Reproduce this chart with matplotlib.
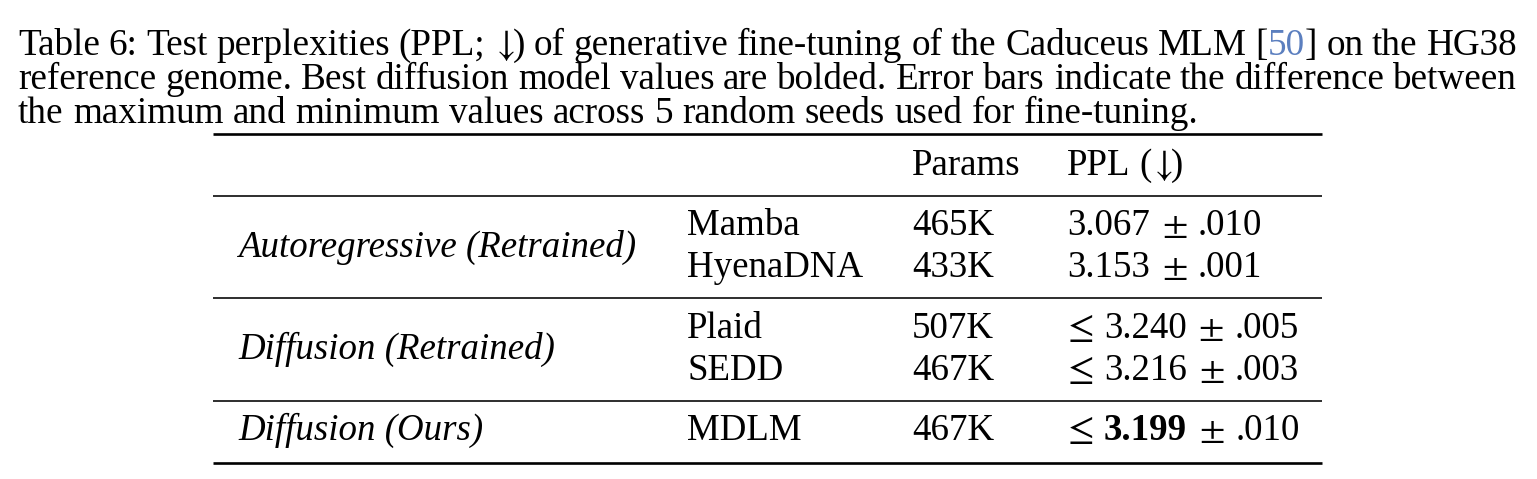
import matplotlib
matplotlib.use("Agg")
import matplotlib.pyplot as plt

plt.rcParams["mathtext.fontset"] = "stix"

# ---------------- data ----------------
caption_lines = [
    "Table 6: Test perplexities (PPL; \u2193) of generative fine-tuning of the Caduceus MLM [50] on the HG38",
    "reference genome. Best diffusion model values are bolded. Error bars indicate the difference between",
    "the maximum and minimum values across 5 random seeds used for fine-tuning.",
]
col_headers = ["Params", "PPL (\u2193)"]
groups = ["Autoregressive (Retrained)", "Diffusion (Retrained)", "Diffusion (Ours)"]
group_sizes = [2, 2, 1]
models = ["Mamba", "HyenaDNA", "Plaid", "SEDD", "MDLM"]
params = ["465K", "433K", "507K", "467K", "467K"]
ppl = [3.067, 3.153, 3.240, 3.216, 3.199]
ppl_err = [0.010, 0.001, 0.005, 0.003, 0.010]
is_bound = [False, False, True, True, True]
is_best = [False, False, False, False, True]

# ---------------- layout ----------------
W, H = 1537, 479
fig = plt.figure(figsize=(W / 100, H / 100), dpi=100)
ax = fig.add_axes([0, 0, 1, 1])
ax.set_xlim(0, W)
ax.set_ylim(H, 0)
ax.axis("off")
renderer = fig.canvas.get_renderer()

FAM = ["Liberation Serif", "DejaVu Serif"]
CAP_SIZE = 26.7
TAB_SIZE = 26.6
LINK = "#5b7fbf"
MATH = {"\u2193": r"$\downarrow$", "\u2264": r"$\leq$", "\u00b1": r"$\pm$"}
MATH_SCALE = {"\u2193": 1.0, "\u2264": 1.04, "\u00b1": 1.0}
MATH_SLOT = {"\u2264": 24.0, "\u00b1": 24.0}  # width of the glyph slot (px)


def measure(s, size, **kw):
    t = ax.text(0, 0, s, fontsize=size, family=FAM, **kw)
    w = t.get_window_extent(renderer).width
    t.remove()
    return w


def space_w(size, **kw):
    return measure("n n", size, **kw) - measure("nn", size, **kw)


def slot_w(ch, size):
    return MATH_SLOT.get(ch) or measure(ch, size)


def draw_runs(x, y, runs, size):
    """runs: list of (text, kw); a number item is a horizontal gap (px)."""
    for item in runs:
        if isinstance(item, (int, float)):
            x += item
            continue
        text, kw = item
        if text == " ":
            x += space_w(size, **kw)
            continue
        if text in MATH:
            w = slot_w(text, size)
            ax.text(x + w / 2, y, MATH[text], fontsize=size * MATH_SCALE[text],
                    family=FAM, va="baseline", ha="center", **kw)
            x += w
            continue
        t = ax.text(x, y, text, fontsize=size, family=FAM,
                    va="baseline", ha="left", **kw)
        x += t.get_window_extent(renderer).width
    return x


def word_runs(word):
    runs = []
    buf = ""
    i = 0
    while i < len(word):
        if word.startswith("[50]", i):
            if buf:
                runs.append((buf, {}))
            buf = ""
            runs += [("[", {}), ("50", {"color": LINK}), ("]", {})]
            i += 4
            continue
        ch = word[i]
        if ch in MATH:
            if buf:
                runs.append((buf, {}))
            buf = ""
            runs.append((ch, {}))
        else:
            buf += ch
        i += 1
    if buf:
        runs.append((buf, {}))
    return runs


def runs_width(runs, size):
    tot = 0.0
    for t, kw in runs:
        tot += slot_w(t, size) if t in MATH else measure(t, size, **kw)
    return tot


def draw_caption_line(line, x0, y, size, right=None):
    words = line.split(" ")
    runs = [word_runs(w) for w in words]
    widths = [runs_width(r, size) for r in runs]
    if right is None:
        gap = space_w(size)
    else:
        gap = (right - x0 - sum(widths)) / (len(words) - 1)
    x = x0
    for r, w in zip(runs, widths):
        draw_runs(x, y, r, size)
        x += w + gap


cap_x0, cap_right = 18, 1517
cap_base = [55, 89, 123]
for i, line in enumerate(caption_lines):
    draw_caption_line(line, cap_x0, cap_base[i], CAP_SIZE,
                      right=cap_right if i < 2 else None)

# rules
TL, TR = 213, 1322
def rule(y, lw):
    ax.plot([TL, TR], [y, y], color="black", lw=lw, solid_capstyle="butt")

rule(134, 1.9)
rule(196, 1.15)
rule(462.5, 1.9)

# columns
x_group, x_model, x_params, x_ppl = 238, 687, 912, 1067
header_base = 175
draw_runs(x_params, header_base, [(col_headers[0], {})], TAB_SIZE)
hdr = col_headers[1].split(" ")
draw_runs(x_ppl, header_base, word_runs(hdr[0]) + [(" ", {})] + word_runs(hdr[1]),
          TAB_SIZE)

row_base = [235, 277, 338, 380, 440]
group_base = [257, 359, 440]
mid_rules = [298, 400.5]
OPGAP = 12.5  # gap around math operators (px)

idx = 0
for g, (name, n) in enumerate(zip(groups, group_sizes)):
    draw_runs(x_group, group_base[g], [(name, {"style": "italic"})], TAB_SIZE)
    for k in range(n):
        i = idx + k
        y = row_base[i]
        draw_runs(x_model, y, [(models[i], {})], TAB_SIZE)
        draw_runs(x_params, y, [(params[i], {})], TAB_SIZE)
        runs = []
        if is_bound[i]:
            runs += [-1.5, ("\u2264", {}), OPGAP + 2]
        runs.append((f"{ppl[i]:.3f}", {"weight": "bold"} if is_best[i] else {}))
        runs += [OPGAP, ("\u00b1", {}), OPGAP - 1,
                 (f"{ppl_err[i]:.3f}".lstrip("0"), {})]
        draw_runs(x_ppl, y, runs, TAB_SIZE)
    idx += n
    if g < len(mid_rules):
        rule(mid_rules[g], 1.15)

fig.savefig("out.png", dpi=100, facecolor="white")
